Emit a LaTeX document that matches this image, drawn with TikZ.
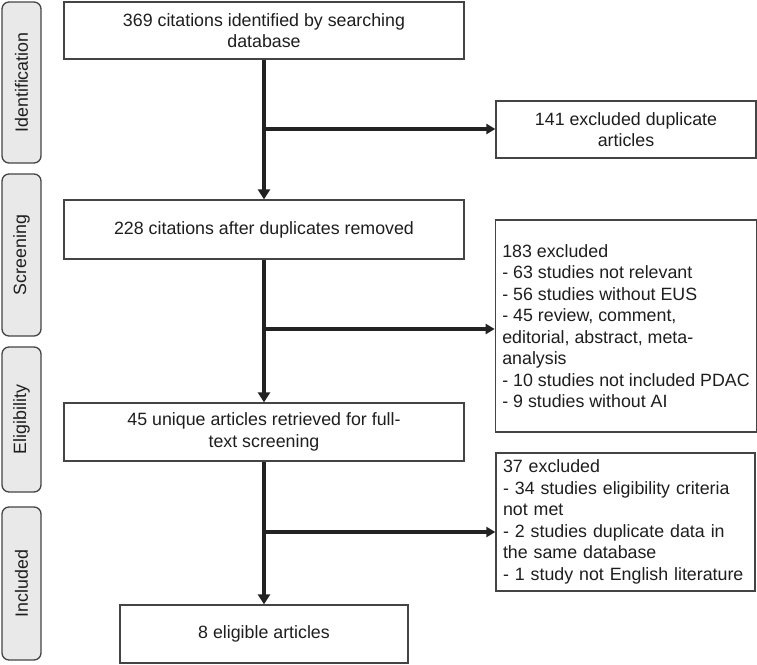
\documentclass[tikz,border=0pt]{standalone}
\usepackage{fontspec}
\setmainfont{Liberation Sans}
\usetikzlibrary{arrows.meta}
\definecolor{txt}{HTML}{1E1E1E}
\definecolor{edge}{HTML}{444444}
\definecolor{stagefill}{HTML}{E9E9E9}
\definecolor{arrowc}{HTML}{222222}
\begin{document}
\begin{tikzpicture}[x=1pt,y=-1pt,
  font=\fontsize{17.8}{21.5}\selectfont,
  box/.style={draw=edge,line width=1.3pt,fill=white,text=txt,align=center,inner sep=4pt},
  exbox/.style={draw=edge,line width=1.3pt,fill=white,text=txt,align=left,inner sep=7pt,anchor=center},
  stage/.style={draw=edge,line width=1.3pt,fill=stagefill,rounded corners=7pt,text=txt,minimum width=39pt},
  arr/.style={draw=arrowc,line width=3.6pt,-{Triangle[length=10pt,width=12pt]}},
  harr/.style={draw=arrowc,line width=3.2pt,-{Triangle[length=9pt,width=10pt]}}]
\useasboundingbox (0,0) rectangle (757,664);
% stage labels
\node[stage,minimum height=161pt] (sid) at (21.5,82.5) {\rotatebox{90}{Identification}};
\node[stage,minimum height=162pt] (ssc) at (21.5,255) {\rotatebox{90}{Screening}};
\node[stage,minimum height=145pt] (sel) at (21.5,419.5) {\rotatebox{90}{Eligibility}};
\node[stage,minimum height=153pt] (sin) at (21.5,583.5) {\rotatebox{90}{Included}};
% main boxes
\node[box,minimum width=400pt,minimum height=57pt] (b1) at (264,30.5) {369 citations identified by searching\\database};
\node[box,minimum width=400pt,minimum height=59pt] (b2) at (264,229.5) {228 citations after duplicates removed};
\node[box,minimum width=400pt,minimum height=58pt] (b3) at (264,432) {45 unique articles retrieved for full-\\text screening};
\node[box,minimum width=288pt,minimum height=58pt] (b4) at (264,634) {8 eligible articles};
% exclusion boxes
\node[box,minimum width=260pt,minimum height=57pt] (e1) at (626,129.5) {141 excluded duplicate\\articles};
\node[exbox,minimum width=260pt,minimum height=212pt] (e2) at (626,326) {183 excluded\\- 63 studies not relevant\\- 56 studies without EUS\\- 45 review, comment,\\editorial, abstract, meta-\\analysis\\- 10 studies not included PDAC\\- 9 studies without AI};
\node[exbox,minimum width=259pt,minimum height=122pt,text width=245pt] (e3) at (625.5,522) {37 excluded\\- 34 studies eligibility criteria\\not met\\- 2 studies duplicate data in\\the same database\\- 1 study not English literature};
% junctions
\coordinate (j1) at (264,129);
\coordinate (j2) at (264,329);
\coordinate (j3) at (264,532);
% connectors
\draw[arr] (b1.south) -- (b2.north);
\draw[arr] (b2.south) -- (b3.north);
\draw[arr] (b3.south) -- (b4.north);
\draw[harr] (j1) -- (j1 -| e1.west);
\draw[harr] (j2) -- (j2 -| e2.west);
\draw[harr] (j3) -- (j3 -| e3.west);
\end{tikzpicture}
\end{document}
